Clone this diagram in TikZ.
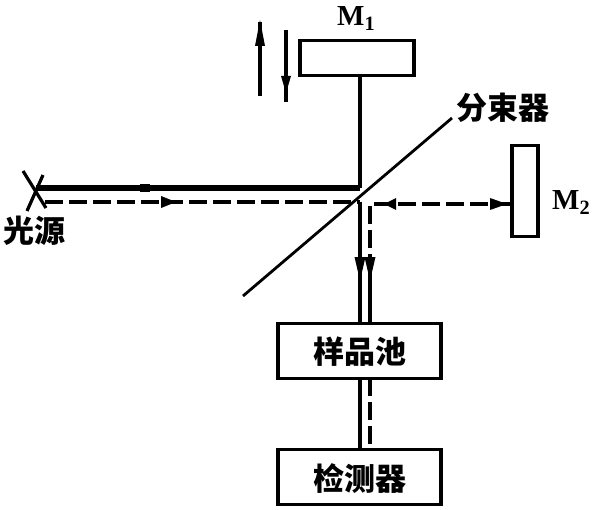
\documentclass[tikz,border=0pt]{standalone}
\usepackage{fontspec}
\setmainfont{Liberation Serif}
\newfontfamily\cjk{Noto Sans CJK SC}
\tikzset{
  box/.style={draw=black,fill=white,line width=3.6pt,rectangle,inner sep=0pt,outer sep=0pt},
  cn/.style={font=\cjk\bfseries\fontsize{31pt}{31pt}\selectfont,inner sep=0pt,text=black},
  lat/.style={font=\fontsize{29pt}{29pt}\selectfont\bfseries,inner sep=0pt,text=black},
  thin beam/.style={line width=3.4pt,draw=black},
  thick beam/.style={line width=5.2pt,draw=black},
  dash beam/.style={line width=4pt,draw=black,dash pattern=on 18pt off 6pt},
  ray/.style={line width=2.8pt,draw=black},
  motion/.style={line width=3.6pt,draw=black},
  headmark/.style={fill=black,draw=none}
}
\begin{document}
\begin{tikzpicture}[x=1pt,y=-1pt]
\useasboundingbox[fill=white] (0,0) rectangle (593,510);
% coordinates
\coordinate (corner) at (360,188);
\coordinate (srcS) at (36,188);
\coordinate (srcD) at (45,202);
\coordinate (split) at (360,202);
\coordinate (turn) at (370,204);
\coordinate (pairL) at (360,258);
\coordinate (pairR) at (370,258);
\coordinate (xa) at (23,171);
\coordinate (xb) at (46,208);
\coordinate (xc) at (43,175);
\coordinate (xd) at (27,211);
\coordinate (bsa) at (243,296);
\coordinate (bsb) at (452,118);
\coordinate (upa) at (260,96);
\coordinate (upb) at (260,22);
\coordinate (dna) at (286,30);
\coordinate (dnb) at (286,102);
% nodes
\node[box,minimum width=114pt,minimum height=35pt] (M1) at (357,58) {};
\node[box,minimum width=26pt,minimum height=91pt] (M2) at (525,191) {};
\node[box,minimum width=163pt,minimum height=55pt] (cell) at (359.5,351) {};
\node[box,minimum width=163pt,minimum height=55pt] (det) at (359.5,477) {};
% vertical connector positions
\coordinate (M1b) at (360,76);
\coordinate (cellTL) at (360,324);
\coordinate (cellTR) at (370,324);
\coordinate (cellBL) at (360,378);
\coordinate (cellBR) at (370,378);
\coordinate (detTL) at (360,449);
\coordinate (detTR) at (370,449);
% beams
\draw[thin beam] (M1b) -- (corner);
\draw[thick beam] (srcS) -- (corner);
\draw[dash beam] (srcD) -- (split);
\draw[dash beam] (M2.west |- turn) -- (turn) -- (pairR);
\draw[thin beam] (split) -- (pairL) -- (cellTL);
\draw[thin beam] (pairR) -- (cellTR);
\draw[thin beam] (cellBL) -- (detTL);
\draw[line width=3.4pt,dash pattern=on 18pt off 6pt] (cellBR) -- (detTR);
% splitter and source cross
\draw[ray] (bsa) -- (bsb);
\draw[ray,line width=3.2pt] (xa) -- (xb);
\draw[ray,line width=3.2pt] (xc) -- (xd);
% motion arrows
\draw[motion] (upa) -- (upb);
\draw[motion] (dna) -- (dnb);
\fill[headmark] (260,20) -- (265,46) -- (255,46) -- cycle;
\fill[headmark] (286,93) -- (281,76) -- (291,76) -- cycle;
% direction marks on beams
\fill[headmark] (140,184) rectangle (150,192);
\fill[headmark] (176,202) -- (161,196) -- (161,208) -- cycle;
\fill[headmark] (384,204) -- (396,198) -- (396,210) -- cycle;
\fill[headmark] (507,204) -- (490,198) -- (490,210) -- cycle;
\fill[headmark] (354.5,257) -- (365.5,257) -- (362,272) -- (358,272) -- cycle;
\fill[headmark] (364.5,257) -- (375.5,257) -- (372,272) -- (368,272) -- cycle;
% labels
\node[lat,anchor=base west] (lM1) at (337,26) {M\textsubscript{1}};
\node[lat,anchor=base west] (lM2) at (552,210) {M\textsubscript{2}};
\node[cn,anchor=center] (lsrc) at (34,231) {光源};
\node[cn,anchor=center] (lbs) at (503,108) {分束器};
\node[cn] (lcell) at (360,352) {样品池};
\node[cn] (ldet) at (360,479) {检测器};
\end{tikzpicture}
\end{document}
